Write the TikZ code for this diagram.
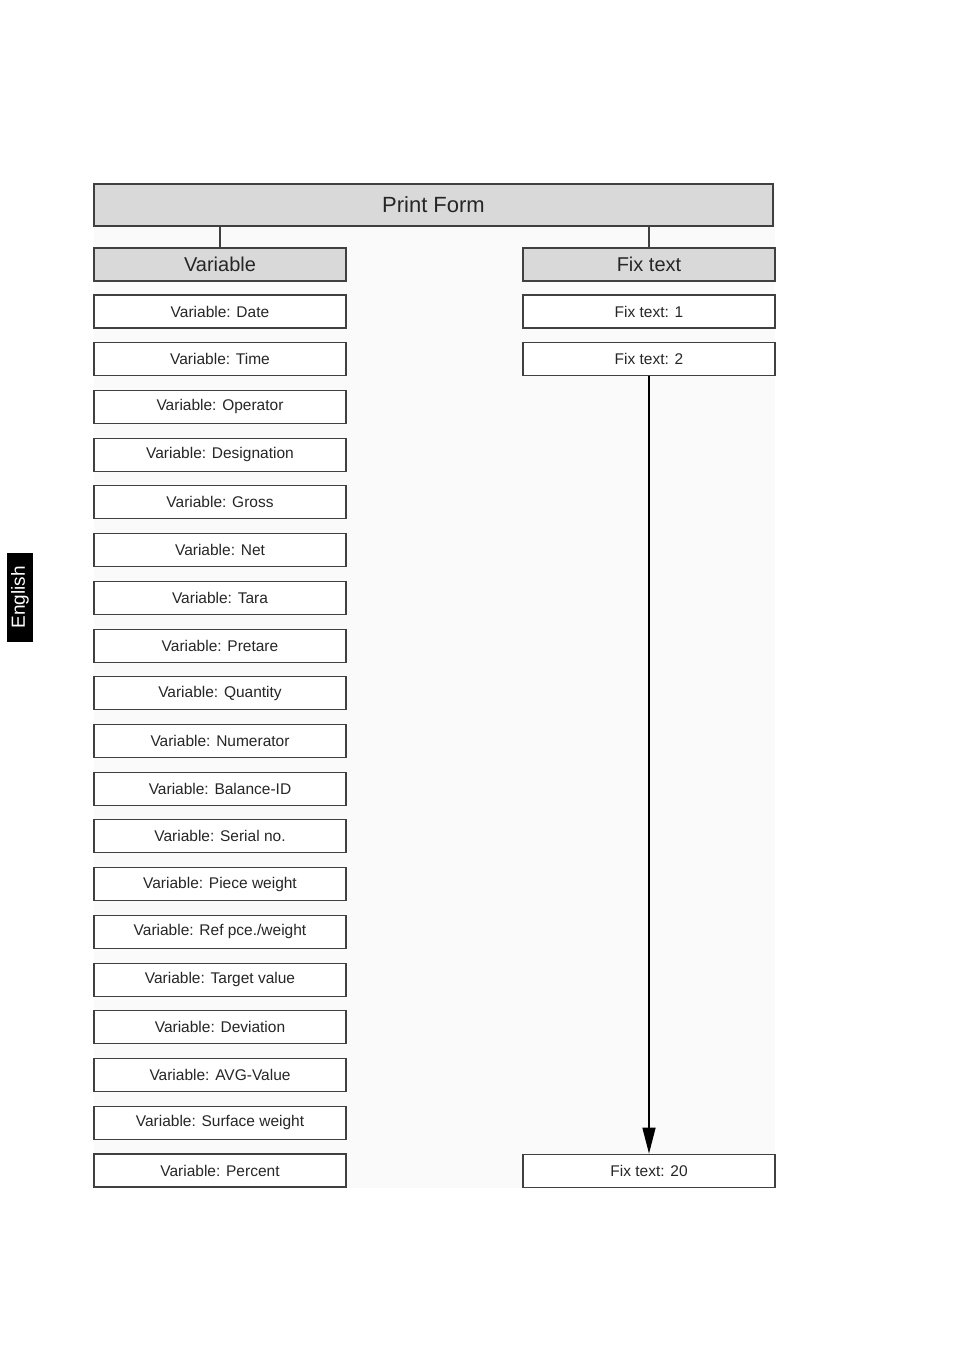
\documentclass[tikz,border=0pt]{standalone}
\usepackage{fontspec}
\setmainfont{Liberation Sans}
\usetikzlibrary{arrows.meta}
\begin{document}
\begin{tikzpicture}[x=1pt,y=-1pt,
  item/.style={draw=black!75,line width=1.1pt,fill=white,minimum width=252pt,minimum height=33pt,inner sep=0pt,font=\fontsize{15.5}{17}\selectfont,text=black!85},
  head/.style={item,fill=black!15,font=\fontsize{20}{22}\selectfont},
  conn/.style={draw=black!75,line width=1.1pt}]
\useasboundingbox (0,0) rectangle (954,1350);
\fill[black!2] (94,184) rectangle (775,1188);
\node[head,minimum width=679pt,minimum height=42pt,font=\fontsize{22}{24}\selectfont] (pf) at (433.5,205) {Print Form};
\node[head] (var) at (220,264.5) {Variable};
\node[head] (fix) at (649,264.5) {Fix text};
\draw[conn] (220,226) -- (var.north);
\draw[conn] (649,226) -- (fix.north);
\foreach [count=\i from 0] \t in {Date,Time,Operator,Designation,Gross,Net,Tara,Pretare,Quantity,Numerator,Balance-ID,Serial no.,Piece weight,Ref pce./weight,Target value,Deviation,AVG-Value,Surface weight,Percent}
  \node[item] (v\i) at (220,{311.5+47.72*\i}) {Variable: \t};
\node[item] (f1) at (649,311.5) {Fix text: 1};
\node[item] (f2) at (649,359.2) {Fix text: 2};
\node[item] (f20) at (649,1170.7) {Fix text: 20};
\draw[line width=1.5pt,-{Triangle[length=26pt,width=13pt]}] (f2.south) -- (f20.north);
\node[fill=black,minimum width=26pt,minimum height=89pt,inner sep=0pt] (tab) at (20,597.5) {};
\node[rotate=90,text=white,font=\fontsize{19}{21}\selectfont] (eng) at (tab.center) {English};
\end{tikzpicture}
\end{document}
